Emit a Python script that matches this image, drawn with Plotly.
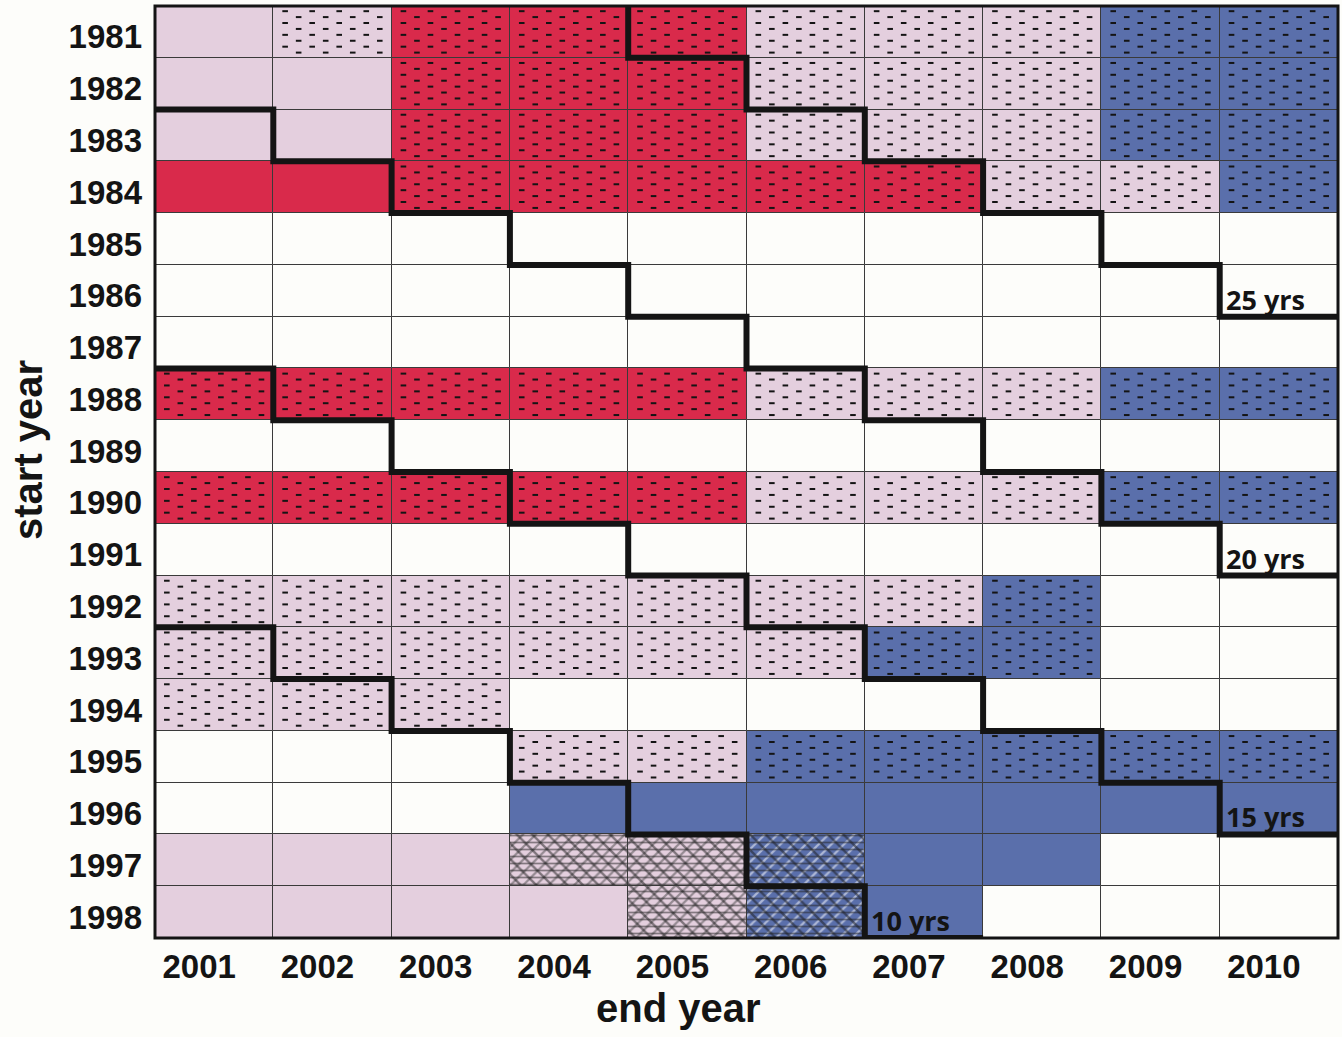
import plotly.graph_objects as go

# Start years (rows) and end years (columns) of the trend windows
start_years = [1981, 1982, 1983, 1984, 1985, 1986, 1987, 1988, 1989,
               1990, 1991, 1992, 1993, 1994, 1995, 1996, 1997, 1998]
end_years = [2001, 2002, 2003, 2004, 2005, 2006, 2007, 2008, 2009, 2010]

# Cell class per window: R = red, P = pale pink, B = blue, W = empty
fill_rows = [
    "PPRRRPPPBB",  # 1981
    "PPRRRPPPBB",  # 1982
    "PPRRRPPPBB",  # 1983
    "RRRRRRRPPB",  # 1984
    "WWWWWWWWWW",  # 1985
    "WWWWWWWWWW",  # 1986
    "WWWWWWWWWW",  # 1987
    "RRRRRPPPBB",  # 1988
    "WWWWWWWWWW",  # 1989
    "RRRRRPPPBB",  # 1990
    "WWWWWWWWWW",  # 1991
    "PPPPPPPBWW",  # 1992
    "PPPPPPBBWW",  # 1993
    "PPPWWWWWWW",  # 1994
    "WWWPPBBBBB",  # 1995
    "WWWBBBBBBB",  # 1996
    "PPPPPBBBWW",  # 1997
    "PPPPPBBWWW",  # 1998
]

# Texture per window: '.' = stippled, 'x' = hatched, '-' = plain
texture_rows = [
    "-.........",  # 1981
    "--........",  # 1982
    "--........",  # 1983
    "--........",  # 1984
    "----------",  # 1985
    "----------",  # 1986
    "----------",  # 1987
    "..........",  # 1988
    "----------",  # 1989
    "..........",  # 1990
    "----------",  # 1991
    "........--",  # 1992
    "........--",  # 1993
    "...-------",  # 1994
    "---.......",  # 1995
    "----------",  # 1996
    "---xxx----",  # 1997
    "----xx----",  # 1998
]

# Window lengths (inclusive years) marked with staircase boundaries
span_lengths = [25, 20, 15, 10]

palette = {"P": "#e4cfde", "R": "#d92a4b", "B": "#5a6fab", "W": "#fdfdfa"}
ink = "#141414"
label_font = "Liberation Sans, Arial, sans-serif"

fig = go.Figure()

# Coloured cells: one bar trace per class, each bar spanning one row
for code, colour in palette.items():
    xs, bases = [], []
    for r, row in enumerate(fill_rows):
        for c, ch in enumerate(row):
            if ch == code:
                xs.append(c)
                bases.append(r - 0.5)
    fig.add_trace(go.Bar(
        x=xs, y=[1] * len(xs), base=bases, width=1,
        marker=dict(color=colour, line=dict(color="#3a3a3a", width=1)),
        hoverinfo="skip", showlegend=False,
    ))

# Hatched cells: overlaid stroke patterns over the fill colour
hx, hb, hc = [], [], []
for r, row in enumerate(texture_rows):
    for c, ch in enumerate(row):
        if ch == "x":
            hx.append(c)
            hb.append(r - 0.5)
            hc.append(palette[fill_rows[r][c]])
fig.add_trace(go.Bar(
    x=hx, y=[1] * len(hx), base=hb, width=1,
    marker=dict(color=hc, line=dict(color="#3a3a3a", width=1),
                pattern=dict(shape="/", fillmode="overlay", fgcolor="#181818",
                             size=9, solidity=0.25)),
    hoverinfo="skip", showlegend=False,
))
fig.add_trace(go.Bar(
    x=hx, y=[1] * len(hx), base=hb, width=1,
    marker=dict(color="rgba(0,0,0,0)", line=dict(color="#3a3a3a", width=1),
                pattern=dict(shape="\\", fillmode="overlay", fgcolor="#181818",
                             size=11, solidity=0.22)),
    hoverinfo="skip", showlegend=False,
))
fig.add_trace(go.Bar(
    x=hx, y=[1] * len(hx), base=hb, width=1,
    marker=dict(color="rgba(0,0,0,0)", line=dict(color="#3a3a3a", width=1),
                pattern=dict(shape="-", fillmode="overlay", fgcolor="#222222",
                             size=7, solidity=0.25)),
    hoverinfo="skip", showlegend=False,
))

# Stipple: staggered short dashes inside each stippled cell
n_dot = 8
offsets = [-0.4 + i * 0.8 / (n_dot - 1) for i in range(n_dot)]
dx, dy = [], []
for r, row in enumerate(texture_rows):
    for c, ch in enumerate(row):
        if ch != ".":
            continue
        for k, v in enumerate(offsets):
            for i, u in enumerate(offsets):
                if (i + k) % 2 == 0:
                    dx.append(c + u)
                    dy.append(r + v)
fig.add_trace(go.Scatter(
    x=dx, y=dy, mode="markers",
    marker=dict(symbol="line-ew", size=4, line=dict(color=ink, width=2)),
    hoverinfo="skip", showlegend=False,
))

# Staircase boundaries for each window length
first_end = end_years[0]
n_cols = len(end_years)
for span in span_lengths:
    px, py = [], []
    last = None
    for r, s in enumerate(start_years):
        c = s + span - 1 - first_end
        if c < 0 or c >= n_cols:
            continue
        if c == 0:
            px += [-0.5]
            py += [r + 0.5]
        else:
            px += [c - 0.5, c - 0.5]
            py += [r - 0.5, r + 0.5]
        px.append(c + 0.5)
        py.append(r + 0.5)
        last = (c, r)
    fig.add_trace(go.Scatter(
        x=px, y=py, mode="lines",
        line=dict(color=ink, width=6),
        hoverinfo="skip", showlegend=False,
    ))
    c, r = last
    fig.add_annotation(
        x=c - 0.5, y=r + 0.5, xref="x", yref="y",
        text=f"{span} yrs", showarrow=False,
        xanchor="left", yanchor="bottom", xshift=4, yshift=-3,
        font=dict(family="Open Sans, sans-serif", size=27, color=ink, weight="bold"),
    )

# Plot frame
fig.add_shape(type="rect", xref="x domain", yref="y domain",
              x0=0, x1=1, y0=0, y1=1, line=dict(color=ink, width=3), layer="above")

# Axis titles
fig.add_annotation(
    text="end year", xref="paper", yref="paper", x=0.5, y=0,
    xanchor="center", yanchor="middle", xshift=-68, yshift=-70, showarrow=False,
    font=dict(family=label_font, size=40, color=ink, weight="bold"),
)
fig.add_annotation(
    text="start year", xref="paper", yref="paper", x=0, y=0.5,
    xanchor="center", yanchor="middle", xshift=-127, yshift=22, textangle=-90,
    showarrow=False,
    font=dict(family=label_font, size=40, color=ink, weight="bold"),
)

tick_font = dict(family=label_font, size=33, color=ink, weight="bold")
fig.update_layout(
    width=1342, height=1037,
    margin=dict(l=155, r=4, t=6, b=99),
    paper_bgcolor="#fdfdfa", plot_bgcolor="#fdfdfa",
    barmode="overlay", bargap=0,
    xaxis=dict(
        range=[-0.5, n_cols - 0.5], tickvals=list(range(n_cols)),
        ticktext=[str(y) for y in end_years], showgrid=False, zeroline=False,
        ticks="", tickfont=tick_font, ticklabelshift=-15, ticklabelstandoff=6,
    ),
    yaxis=dict(
        range=[len(start_years) - 0.5, -0.5], tickvals=list(range(len(start_years))),
        ticktext=[str(y) for y in start_years], showgrid=False, zeroline=False,
        ticks="", tickfont=tick_font, ticklabelstandoff=12, ticklabelshift=-5,
    ),
)

fig.write_html("out.html")
